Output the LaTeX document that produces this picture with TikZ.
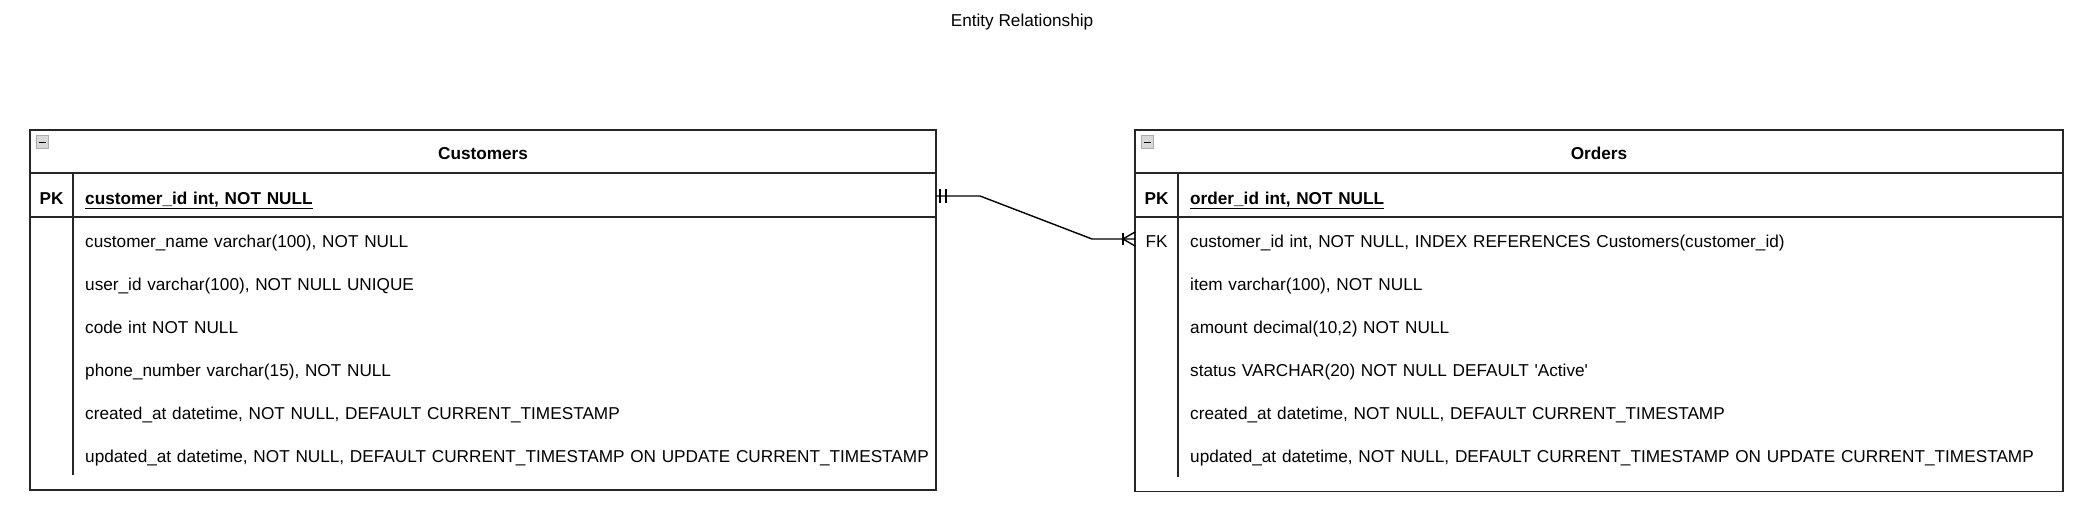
\documentclass[tikz,border=0pt]{standalone}
\usepackage{fontspec}
\setmainfont{Liberation Sans}
\usetikzlibrary{calc}
\begin{document}
\begin{tikzpicture}[x=1pt, y=1pt, node distance=43pt,
  every node/.style={font=\fontsize{17.2}{21}\selectfont, inner sep=0pt},
  tbl/.style={draw=black!85, line width=1.5pt, outer sep=0pt, minimum width=#1},
  head/.style={font=\fontsize{17.2}{21}\selectfont\bfseries, text height=18pt, text depth=1.5pt},
  key/.style={text height=18pt, text depth=1.5pt},
  field/.style={text width=880pt, align=left, text height=18pt, text depth=1.5pt},
  rule/.style={draw=black!85, line width=1.3pt},
  icon/.style={fill=gray!30, draw=gray!65, line width=1pt},
  conn/.style={line width=1.4pt}]
  \useasboundingbox (0,0) rectangle (2089,516);

  \node (diag) at (1022,494) {Entity Relationship};

  % Customers table
  \node[tbl=906pt, minimum height=360pt] (cust) at (483,206) {};
  \draw[icon] ($(cust.north west)+(6,-6)$) rectangle ++(12.7,-12.7);
  \draw[line width=1.8pt] ($(cust.north west)+(8.5,-12.5)$) -- ++(7.5,0);
  \node[head] (ctitle) at ($(cust.north)+(0,-21.5)$) {Customers};
  \draw[rule] ($(cust.north west)+(0,-43)$) -- ($(cust.north east)+(0,-43)$);
  \draw[rule] ($(cust.north west)+(0,-87)$) -- ($(cust.north east)+(0,-87)$);
  \draw[rule] ($(cust.north west)+(43,-43)$) -- ($(cust.south west)+(43,15)$);
  \node[head] (cpkkey) at ($(cust.north west)+(21.5,-66)$) {PK};
  \node[field, anchor=west] (cpk) at ($(cust.north west)+(55,-66)$) {\textbf{\underline{customer\_id int, NOT NULL}}};
  \node[field, below of=cpk] (c1) {customer\_name varchar(100), NOT NULL};
  \node[field, below of=c1] (c2) {user\_id varchar(100), NOT NULL UNIQUE};
  \node[field, below of=c2] (c3) {code int NOT NULL};
  \node[field, below of=c3] (c4) {phone\_number varchar(15), NOT NULL};
  \node[field, below of=c4] (c5) {created\_at datetime, NOT NULL, DEFAULT CURRENT\_TIMESTAMP};
  \node[field, below of=c5] (c6) {updated\_at datetime, NOT NULL, DEFAULT CURRENT\_TIMESTAMP ON UPDATE CURRENT\_TIMESTAMP};

  % Orders table
  \node[tbl=928pt, minimum height=361.5pt] (ord) at (1599,205.25) {};
  \draw[icon] ($(ord.north west)+(6,-6)$) rectangle ++(12.7,-12.7);
  \draw[line width=1.8pt] ($(ord.north west)+(8.5,-12.5)$) -- ++(7.5,0);
  \node[head] (otitle) at ($(ord.north)+(0,-21.5)$) {Orders};
  \draw[rule] ($(ord.north west)+(0,-43)$) -- ($(ord.north east)+(0,-43)$);
  \draw[rule] ($(ord.north west)+(0,-87)$) -- ($(ord.north east)+(0,-87)$);
  \draw[rule] ($(ord.north west)+(43,-43)$) -- ($(ord.south west)+(43,14.5)$);
  \node[head] (opkkey) at ($(ord.north west)+(21.5,-66)$) {PK};
  \node[field, anchor=west] (opk) at ($(ord.north west)+(55,-66)$) {\textbf{\underline{order\_id int, NOT NULL}}};
  \node[field, below of=opk] (ofk) {customer\_id int, NOT NULL, INDEX REFERENCES Customers(customer\_id)};
  \node[key, below of=opkkey] (ofkkey) {FK};
  \node[field, below of=ofk] (o2) {item varchar(100), NOT NULL};
  \node[field, below of=o2] (o3) {amount decimal(10,2) NOT NULL};
  \node[field, below of=o3] (o4) {status VARCHAR(20) NOT NULL DEFAULT \textquotesingle Active\textquotesingle};
  \node[field, below of=o4] (o5) {created\_at datetime, NOT NULL, DEFAULT CURRENT\_TIMESTAMP};
  \node[field, below of=o5] (o6) {updated\_at datetime, NOT NULL, DEFAULT CURRENT\_TIMESTAMP ON UPDATE CURRENT\_TIMESTAMP};

  % relationship: one Customer to many Orders
  \coordinate (cstart) at (cust.east |- cpk);
  \coordinate (cend) at (ord.west |- ofk);
  \draw[conn] (cstart) -- ++(44,0) -- ($(cend)+(-43,0)$) -- (cend);
  \draw[conn] ($(cstart)+(4,-7)$) -- ++(0,14) ($(cstart)+(10,-7)$) -- ++(0,14);
  \draw[conn] ($(cend)+(-12,-6)$) -- ++(0,12);
  \draw[conn] ($(cend)+(0,7)$) -- ($(cend)+(-12,0)$) -- ($(cend)+(0,-7)$);
\end{tikzpicture}
\end{document}
